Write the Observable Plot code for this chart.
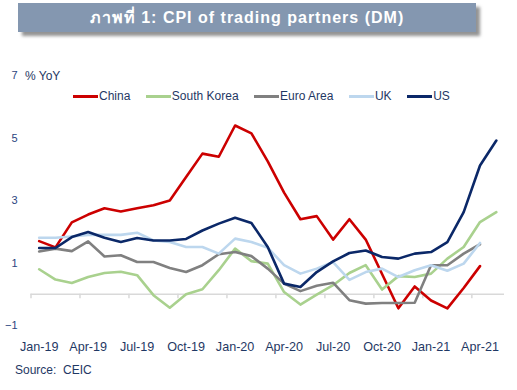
<!DOCTYPE html>
<html>
<head>
<meta charset="utf-8">
<script src="https://cdn.jsdelivr.net/npm/d3@7"></script>
<script src="https://cdn.jsdelivr.net/npm/@observablehq/plot@0.6"></script>
<style>
  html, body { margin: 0; padding: 0; background: #fff; }
  #wrap { position: relative; width: 517px; height: 390px; overflow: hidden; font-family: "Liberation Sans", Arial, sans-serif; }
  #title { position: absolute; left: 18px; top: 3px; width: 458px; height: 29px; background: #8497B0;
           box-shadow: 4px 4px 3px rgba(60,60,60,0.55); color: #fff; font-weight: bold; font-size: 16px;
           display: flex; align-items: center; justify-content: center; letter-spacing: 1px; }
  #unit { position: absolute; left: 25px; top: 69px; font-size: 12px; color: #1F3864; }
  #legend { position: absolute; left: 73px; top: 89px; display: flex; gap: 15.5px; font-size: 12px; color: #1F3864; }
  .item { display: flex; align-items: center; gap: 1px; }
  .sw { width: 25px; height: 3px; }
  #source { position: absolute; left: 15px; top: 363px; font-size: 12px; color: #1F3864; }
  svg { position: absolute; left: 0; top: 0; }
</style>
</head>
<body>
<div id="wrap">
  <div id="title">ภาพที่ 1: CPI of trading partners (DM)</div>
  <div id="unit">% YoY</div>
  <div id="legend"></div>
  <div id="source">Source:&nbsp; CEIC</div>
</div>
<script>
const months = ["Jan-19","Feb-19","Mar-19","Apr-19","May-19","Jun-19","Jul-19","Aug-19","Sep-19","Oct-19","Nov-19","Dec-19",
  "Jan-20","Feb-20","Mar-20","Apr-20","May-20","Jun-20","Jul-20","Aug-20","Sep-20","Oct-20","Nov-20","Dec-20",
  "Jan-21","Feb-21","Mar-21","Apr-21","May-21"];
const tickLabels = ["Jan-19","Apr-19","Jul-19","Oct-19","Jan-20","Apr-20","Jul-20","Oct-20","Jan-21","Apr-21"];
const yTicks = [-1, 1, 3, 5, 7];

const seriesNames = ["China", "South Korea", "Euro Area", "UK", "US"];
const seriesColors = ["#CC0000", "#A9D18E", "#808080", "#BDD7EE", "#0B2868"];

const china = [1.7, 1.5, 2.3, 2.55, 2.75, 2.65, 2.75, 2.85, 3.0, 3.75, 4.5, 4.4,
  5.4, 5.15, 4.25, 3.25, 2.4, 2.5, 1.75, 2.4, 1.75, 0.65, -0.45, 0.25,
  -0.2, -0.45, 0.2, 0.9, null];
const southKorea = [0.8, 0.47, 0.36, 0.55, 0.68, 0.72, 0.61, -0.03, -0.43, 0.0, 0.16, 0.77,
  1.46, 1.06, 0.98, 0.07, -0.33, -0.01, 0.29, 0.68, 0.93, 0.15, 0.58, 0.55,
  0.66, 1.14, 1.51, 2.31, 2.63];
const euroArea = [1.37, 1.46, 1.38, 1.69, 1.21, 1.25, 1.03, 1.03, 0.84, 0.71, 0.93, 1.28,
  1.35, 1.22, 0.82, 0.34, 0.1, 0.27, 0.37, -0.19, -0.3, -0.28, -0.28, -0.27,
  0.93, 0.93, 1.3, 1.6, null];
const uk = [1.81, 1.81, 1.85, 1.9, 1.9, 1.9, 1.97, 1.72, 1.67, 1.51, 1.51, 1.3,
  1.78, 1.67, 1.49, 0.93, 0.66, 0.82, 1.03, 0.46, 0.71, 0.82, 0.55, 0.77,
  0.93, 0.75, 0.98, 1.64, null];
const us = [1.48, 1.48, 1.83, 1.99, 1.81, 1.67, 1.8, 1.72, 1.72, 1.77, 2.04, 2.26,
  2.45, 2.28, 1.51, 0.34, 0.23, 0.71, 1.05, 1.32, 1.4, 1.19, 1.14, 1.3,
  1.35, 1.67, 2.63, 4.12, 4.92];

const seriesValues = [china, southKorea, euroArea, uk, us];
const data = seriesValues.flatMap((vals, s) =>
  vals.map((v, i) => ({series: seriesNames[s], i, v})));

const tickIdx = tickLabels.map(l => months.indexOf(l));
const boundaries = tickIdx.map(i => i - 0.5);

// legend
const legend = document.getElementById("legend");
seriesNames.forEach((n, k) => {
  const it = document.createElement("div");
  it.className = "item";
  const sw = document.createElement("div");
  sw.className = "sw";
  sw.style.background = seriesColors[k];
  const tx = document.createElement("span");
  tx.textContent = n;
  it.appendChild(sw); it.appendChild(tx);
  legend.appendChild(it);
});

const chart = Plot.plot({
  width: 517,
  height: 390,
  marginTop: 75,
  marginBottom: 65,
  marginLeft: 30.5,
  marginRight: 13,
  style: {fontFamily: "'Liberation Sans', Arial, sans-serif", color: "#1F3864", background: "transparent"},
  x: {type: "linear", domain: [-0.5, months.length - 0.5]},
  y: {domain: [-1, 7]},
  color: {domain: seriesNames, range: seriesColors},
  marks: [
    Plot.ruleY([0], {stroke: "#D9D9D9", strokeWidth: 1.5}),
    Plot.ruleX(boundaries, {x: d => d, y1: 0, y2: -0.14, stroke: "#D9D9D9", strokeWidth: 1.5}),
    Plot.axisY({ticks: yTicks, tickSize: 0, tickPadding: 13.5, fontSize: 11, label: null, fill: "#2B4580"}),
    Plot.axisX({ticks: tickIdx, tickFormat: d => months[d], tickSize: 0, tickPadding: 17, fontSize: 12.6, label: null}),
    Plot.line(data, {x: "i", y: "v", z: "series", stroke: "series", strokeWidth: 2.6, defined: d => d.v != null})
  ]
});
document.getElementById("wrap").prepend(chart);
</script>
</body>
</html>
